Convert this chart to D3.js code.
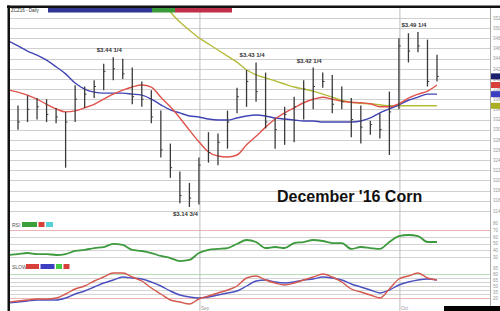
<!DOCTYPE html>
<html lang="en">
<head>
    <meta charset="UTF-8">
    <title>December '16 Corn</title>
    <script src="https://d3js.org/d3.v7.min.js"></script>
    <style>
        body { margin: 0; background: #fff; }
        svg { display: block; font-family: "Liberation Sans", Arial, sans-serif; }
        .grid { stroke: #cfcfcf; stroke-width: 1; }
        .ma { fill: none; stroke-width: 1.4px; }
        .axis-label { font-size: 4.5px; fill: #999; }
    </style>
</head>
<body>
<div id="chart"></div>
<script>
    // Daily bars, prices in cents (bar 0 = first visible day)
    const highs = [334.75, 336.75, 336.25, 336, 334.25, 333.5, 338.75, 338.5, 339.75, 343,
        344.25, 344, 342.25, 339.5, 337.75, 333.75, 327.25, 321.75, 319.5, 324.5,
        329.5, 329.25, 333.75, 338.25, 341.75, 343.25, 341.25, 332.25, 334.5, 336.5,
        339.75, 342.25, 341.25, 340.75, 338.5, 336.25, 334.75, 331.75, 333.25, 337.5,
        348, 349, 349.25, 347.75, 344.75];
    const lows = [330, 331.5, 332, 331.5, 331.25, 322.5, 331.5, 334.25, 336.25, 337.75,
        339.75, 340, 335, 334.5, 331.25, 324.5, 320.5, 315.5, 314.75, 315.25,
        323.5, 323, 326.25, 333.25, 334.5, 335.5, 330.25, 326.25, 327, 327.5,
        332, 334, 338.25, 333.25, 334, 328.5, 327.25, 329, 328.25, 325,
        334, 343.25, 345.25, 338.5, 339.5];
    const closes = [331.5, 334, 334.5, 333, 332.5, 331.5, 336, 337, 338.5, 341.5,
        342, 341, 336.5, 336, 332.5, 326, 322.5, 317, 316.5, 323,
        325.5, 327.5, 331.5, 336.5, 339.5, 337.5, 331.5, 330, 333, 334.5,
        338, 338.5, 339.5, 335, 335.5, 332, 330.5, 331, 330, 333.5,
        346.5, 345.5, 346.5, 339.5, 340.5];

    // Moving averages (blue and red start one day before the first bar, olive later)
    const blueStart = -1;
    const blueMA = [347.5, 346.5, 345.5, 344.7, 343.7, 342.4, 341, 339.2, 338, 337.4, 337.2,
        337.2, 337.2, 337, 336.8, 336, 334.9, 333.9, 333.3, 332.7, 332.5,
        332.1, 331.9, 331.9, 332.3, 332.7, 332.9, 332.7, 332.3, 332.1, 331.9,
        331.7, 331.7, 331.5, 331.5, 331.5, 331.5, 331.7, 332.3, 333.3, 334.1,
        334.9, 335.8, 336.4, 337, 337];
    const redStart = -1;
    const redMA = [337.8, 337.4, 336.8, 336, 335, 334.1, 333.5, 333.7, 334.3, 335, 336,
        337, 337.8, 338.4, 338.8, 338.4, 336.4, 334.5, 332.3, 329.9, 327.6,
        325.6, 324.8, 324.6, 325, 327, 328.7, 330.5, 332.1, 333.3, 334.3,
        335.3, 336, 336.4, 336, 335.6, 335.4, 335.3, 335.1, 334.5, 334.5,
        335.1, 336.2, 337, 337.6, 338.8];
    const oliveStart = 15;
    const oliveMA = [355.6, 353.2, 351.2, 349.6, 348.1, 346.9, 345.7, 344.5, 343.3, 341.8,
        340.8, 340.2, 339.6, 339, 338.4, 338, 337.6, 337, 336.4, 335.8,
        335.4, 335.2, 335.1, 334.9, 334.7, 334.7, 334.7, 334.7, 334.7, 334.7];

    // Indicators (start one day before the first bar)
    const rsi = [33, 34.4, 35.9, 34.4, 34.4, 33, 34.4, 38.9, 40.4, 43.3, 44.8,
        49.3, 47.8, 40.4, 38.9, 35.9, 31.5, 28.5, 24, 25.6, 35.9,
        40.4, 41.9, 43.3, 49.3, 55.2, 52.2, 43.3, 44.8, 43.3, 50.7,
        52.2, 55.2, 53.7, 50.7, 50.7, 41.9, 44.8, 43.3, 41.9, 52.2,
        61.1, 62.6, 61.1, 52.2, 52.2];
    const stochK = [10, 12.5, 15, 17.5, 17.5, 20, 30, 42.5, 50, 62.5, 72.5,
        82.5, 82.5, 72.5, 62.5, 45, 30, 15, 10, 5, 17.5,
        25, 32.5, 40, 50, 70, 75, 65, 57.5, 52.5, 57.5,
        65, 72.5, 80, 72.5, 60, 42.5, 35, 27.5, 20, 42.5,
        67.5, 75, 82.5, 70, 65];
    const stochD = [7.5, 10, 12.5, 15, 15, 15, 20, 30, 37.5, 47.5, 57.5,
        65, 72.5, 70, 67.5, 60, 50, 37.5, 27.5, 22.5, 20,
        22.5, 27.5, 32.5, 37.5, 50, 62.5, 65, 60, 57.5, 60,
        65, 67.5, 72.5, 70, 65, 55, 47.5, 40, 32.5, 40,
        52.5, 60, 65, 67.5, 65];

    // Annotations and axis labels
    const callouts = [
        {bar: 10, text: "$3.44 1/4", side: "high"},
        {bar: 25, text: "$3.43 1/4", side: "high"},
        {bar: 31, text: "$3.42 1/4", side: "high"},
        {bar: 42, text: "$3.49 1/4", side: "high"},
        {bar: 18, text: "$3.14 3/4", side: "low"}
    ];
    const priceTicks = d3.range(314, 353, 2);
    const rsiTicks = [30, 40, 50, 60, 70, 80];
    const stochTicks = [20, 35, 50, 65, 80, 95];
    const months = [{bar: 19, label: "Sep"}, {bar: 40, label: "Oct"}];

    const W = 500, H = 311;
    const left = 10, right = 490;
    const svg = d3.select("#chart").append("svg")
        .attr("width", W).attr("height", H);

    const x = d3.scaleLinear().domain([0, 44]).range([18, 437]);
    const yPrice = d3.scaleLinear().domain([314.75, 349.25]).range([207, 32]);
    const yRsi = d3.scaleLinear().domain([30, 70]).range([257, 230]);
    const yStoch = d3.scaleLinear().domain([0, 100]).range([306, 266]);

    // clip regions for the three panels
    const defs = svg.append("defs");
    function clip(id, y0, y1) {
        defs.append("clipPath").attr("id", id).append("rect")
            .attr("x", left).attr("y", y0).attr("width", right - left).attr("height", y1 - y0);
        return `url(#${id})`;
    }
    const clipPrice = clip("cp", 12, 215);
    const clipRsi = clip("cr", 216, 263);
    const clipStoch = clip("cs", 263, 311);

    // horizontal gridlines
    svg.append("g").selectAll("line").data(priceTicks).join("line")
        .attr("class", "grid")
        .attr("x1", left).attr("x2", right)
        .attr("y1", d => Math.round(yPrice(d)) + 0.5).attr("y2", d => Math.round(yPrice(d)) + 0.5);

    svg.append("g").selectAll("line").data([30, 40, 50, 60, 70]).join("line")
        .attr("x1", left).attr("x2", right)
        .attr("y1", d => Math.round(yRsi(d)) + 0.5).attr("y2", d => Math.round(yRsi(d)) + 0.5)
        .attr("stroke", d => d === 70 ? "#eab4b4" : "#d4d4d4");

    svg.append("g").selectAll("line").data([20, 30, 40, 50, 60, 70, 80]).join("line")
        .attr("x1", left).attr("x2", right)
        .attr("y1", d => Math.round(yStoch(d)) + 0.5).attr("y2", d => Math.round(yStoch(d)) + 0.5)
        .attr("stroke", d => d === 80 ? "#b8dcb8" : d === 20 ? "#eab4b4" : "#d4d4d4");

    // month separators
    svg.append("g").selectAll("line").data(months).join("line")
        .attr("x1", d => x(d.bar) + 1).attr("x2", d => x(d.bar) + 1)
        .attr("y1", 8).attr("y2", H)
        .attr("stroke", "#bdbdbd");
    svg.append("g").selectAll("text").data(months).join("text")
        .attr("class", "axis-label")
        .attr("x", d => x(d.bar) + 2).attr("y", 310)
        .text(d => d.label);

    // right axis
    svg.append("line").attr("x1", right + 0.5).attr("x2", right + 0.5)
        .attr("y1", 8).attr("y2", H).attr("stroke", "#aaa");
    svg.append("g").selectAll("text").data(priceTicks).join("text")
        .attr("class", "axis-label").attr("x", right + 3).attr("y", d => yPrice(d) + 1.8)
        .text(d => d);
    svg.append("g").selectAll("text").data(rsiTicks).join("text")
        .attr("class", "axis-label").attr("x", right + 3).attr("y", d => yRsi(d) + 1.8)
        .text(d => d);
    svg.append("g").selectAll("text").data(stochTicks).join("text")
        .attr("class", "axis-label").attr("x", right + 3).attr("y", d => yStoch(d) + 1.8)
        .text(d => d);

    // moving averages
    function series(values, start) {
        return values.map((v, k) => ({i: start + k, v}));
    }
    const priceLine = d3.line().curve(d3.curveMonotoneX).x(d => x(d.i)).y(d => yPrice(d.v));
    const gPrice = svg.append("g").attr("clip-path", clipPrice);
    [[oliveMA, oliveStart, "#b7bb3c"], [blueMA, blueStart, "#4145b4"], [redMA, redStart, "#e0534c"]]
        .forEach(([vals, start, col]) => {
            gPrice.append("path").datum(series(vals, start))
                .attr("class", "ma").attr("stroke", col).attr("d", priceLine);
        });

    // high-low bars with close ticks
    const bars = highs.map((h, i) => ({i, h, l: lows[i], c: closes[i]}));
    gPrice.append("g").selectAll("line").data(bars).join("line")
        .attr("x1", d => x(d.i)).attr("x2", d => x(d.i))
        .attr("y1", d => yPrice(d.h)).attr("y2", d => yPrice(d.l))
        .attr("stroke", "#3a3a3a").attr("stroke-width", 1.3);
    gPrice.append("g").selectAll("line").data(bars).join("line")
        .attr("x1", d => x(d.i)).attr("x2", d => x(d.i) + 1.8)
        .attr("y1", d => yPrice(d.c)).attr("y2", d => yPrice(d.c))
        .attr("stroke", "#3a3a3a").attr("stroke-width", 1);

    // price callouts
    svg.append("g").selectAll("text").data(callouts).join("text")
        .attr("x", d => x(d.bar) - 4)
        .attr("y", d => d.side === "high" ? yPrice(highs[d.bar]) - 5 : yPrice(lows[d.bar]) + 9)
        .attr("text-anchor", "middle")
        .style("font-size", "6px").style("font-weight", "bold").attr("fill", "#333")
        .text(d => d.text);

    // last value flags on the right axis
    const flags = [
        {v: closes[closes.length - 1], col: "#1d1f6b"},
        {v: redMA[redMA.length - 1], col: "#d8403a"},
        {v: blueMA[blueMA.length - 1], col: "#3c40c0"},
        {v: oliveMA[oliveMA.length - 1], col: "#a9ae22"}
    ];
    svg.append("g").selectAll("rect").data(flags).join("rect")
        .attr("x", right + 1).attr("width", 10)
        .attr("y", d => yPrice(d.v) - 3).attr("height", 6)
        .attr("fill", d => d.col);

    // indicators
    const rsiLine = d3.line().curve(d3.curveMonotoneX).x(d => x(d.i)).y(d => yRsi(d.v));
    svg.append("g").attr("clip-path", clipRsi).append("path")
        .datum(series(rsi, -1)).attr("fill", "none")
        .attr("stroke", "#3d9a3d").attr("stroke-width", 1.8).attr("d", rsiLine);

    const stochLine = d3.line().curve(d3.curveMonotoneX).x(d => x(d.i)).y(d => yStoch(d.v));
    const gStoch = svg.append("g").attr("clip-path", clipStoch);
    gStoch.append("path").datum(series(stochD, -1)).attr("class", "ma")
        .attr("stroke", "#4a50c0").attr("stroke-width", 1.2).attr("d", stochLine);
    gStoch.append("path").datum(series(stochK, -1)).attr("class", "ma")
        .attr("stroke", "#d4584e").attr("stroke-width", 1.2).attr("d", stochLine);

    // panel legends
    function legend(y, label, boxes) {
        svg.append("text").attr("x", 12).attr("y", y + 4.5)
            .style("font-size", "5px").attr("fill", "#555").text(label);
        let bx = boxes.start;
        boxes.items.forEach(b => {
            svg.append("rect").attr("x", bx).attr("y", y).attr("width", b.w).attr("height", 5)
                .attr("fill", b.col);
            bx += b.w + 1.5;
        });
    }
    legend(222, "RSI", {start: 22, items: [{w: 15, col: "#3aa03a"}, {w: 6, col: "#d8403a"}, {w: 7, col: "#55d0d8"}]});
    legend(264, "SLOW", {start: 26, items: [{w: 13, col: "#d8403a"}, {w: 14, col: "#3c40c0"}, {w: 6, col: "#44cc44"}, {w: 6, col: "#d8403a"}]});

    // header strip
    svg.append("text").attr("x", 11).attr("y", 11.5)
        .style("font-size", "4.5px").attr("fill", "#333").text("ZCZ16 - Daily");
    [[48, 104, "#2f3590"], [152, 23, "#3a9a3a"], [175, 57, "#c0304a"]].forEach(([bx, bw, col]) => {
        svg.append("rect").attr("x", bx).attr("y", 8).attr("width", bw).attr("height", 4.5).attr("fill", col);
    });

    // title
    svg.append("text").attr("x", 277).attr("y", 202)
        .style("font-size", "16px").style("font-weight", "bold").attr("fill", "#111")
        .text("December '16 Corn");

    // frame
    svg.append("rect").attr("x", 7).attr("y", 5.5).attr("width", W - 7).attr("height", 2.5).attr("fill", "#111");
    svg.append("rect").attr("x", 7.5).attr("y", 5.5).attr("width", 2.5).attr("height", H).attr("fill", "#111");
    svg.append("rect").attr("x", 444).attr("y", 306).attr("width", 56).attr("height", 5).attr("fill", "#000");
</script>
</body>
</html>
